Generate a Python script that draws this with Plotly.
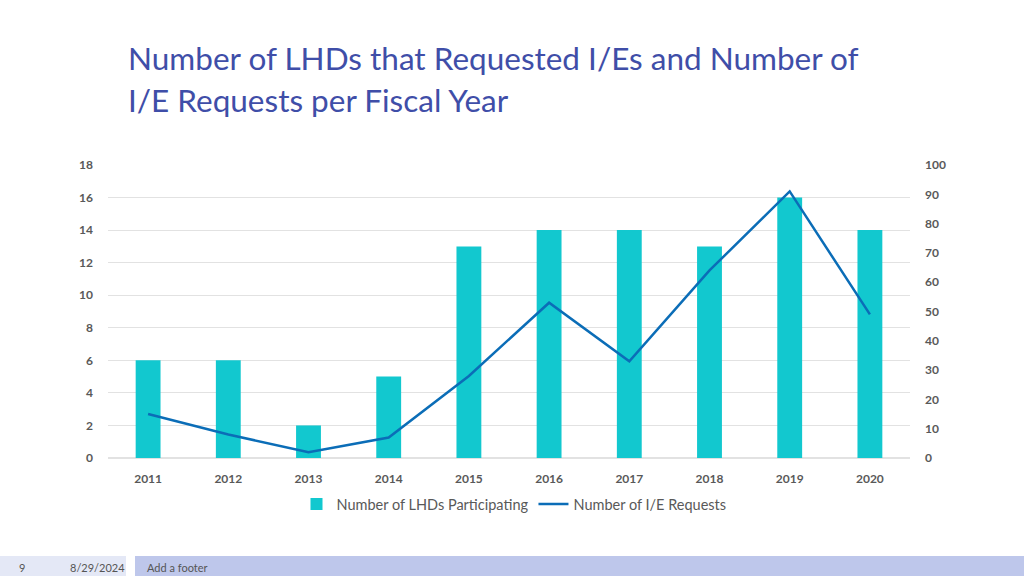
import plotly.graph_objects as go

years = ["2011", "2012", "2013", "2014", "2015", "2016", "2017", "2018", "2019", "2020"]
lhds_participating = [6, 6, 2, 5, 13, 14, 14, 13, 16, 14]
ie_requests = [15, 8, 2, 7, 28, 53, 33, 64, 91, 49]
left_ticks = [0, 2, 4, 6, 8, 10, 12, 14, 16, 18]
right_ticks = [0, 10, 20, 30, 40, 50, 60, 70, 80, 90, 100]

L, R, T, B = 108, 910, 165, 458
W, H = 1024, 576
pw, ph = R - L, B - T

def px(x):
    return (x - L) / pw

def py(y):
    return (B - y) / ph

fig = go.Figure()
fig.add_trace(go.Bar(
    x=years, y=lhds_participating, name="Number of LHDs Participating",
    marker=dict(color="#12C8CF", line=dict(width=0)), width=0.31, yaxis="y",
))
fig.add_trace(go.Scatter(
    x=years, y=ie_requests, name="Number of I/E Requests", mode="lines",
    line=dict(color="#0B6DB7", width=2.5), yaxis="y2",
))

tickfont = dict(family="Lato", size=12, color="#595959", weight="bold")

fig.update_layout(
    width=W, height=H,
    margin=dict(l=L, r=W - R, t=T, b=H - B, pad=0),
    paper_bgcolor="white", plot_bgcolor="white",
    showlegend=True,
    legend=dict(orientation="h", x=px(514), xanchor="center", y=py(504), yanchor="middle",
                font=dict(family="Lato", size=14.5, color="#595959"), itemwidth=30,
                bgcolor="rgba(0,0,0,0)"),
    xaxis=dict(type="category", showgrid=False, showline=False, zeroline=False,
               tickfont=tickfont, ticks="", ticklabelstandoff=12),
    yaxis=dict(range=[0, 18], tickvals=left_ticks, showgrid=True, gridcolor="#E2E2E2",
               gridwidth=1, zeroline=True, zerolinecolor="#E2E2E2", showline=False,
               tickfont=tickfont, ticks="", ticklabelstandoff=14),
    yaxis2=dict(range=[0, 100], tickvals=right_ticks, overlaying="y", side="right",
                showgrid=False, zeroline=False, showline=False,
                tickfont=tickfont, ticks="", ticklabelstandoff=14),
    bargap=0.69,
)

titlefont = dict(family="Lato", size=31.5, color="#3F4EA8")
fig.add_annotation(text="Number of LHDs that Requested I/Es and Number of",
                   xref="paper", yref="paper", x=px(126), y=py(58),
                   showarrow=False, font=titlefont, xanchor="left", yanchor="middle")
fig.add_annotation(text="I/E Requests per Fiscal Year",
                   xref="paper", yref="paper", x=px(126), y=py(100),
                   showarrow=False, font=titlefont, xanchor="left", yanchor="middle")

# footer band
fig.add_shape(type="rect", xref="paper", yref="paper",
              x0=px(0), x1=px(126), y0=py(576), y1=py(556),
              fillcolor="#E4E8F6", line=dict(width=0), layer="below")
fig.add_shape(type="rect", xref="paper", yref="paper",
              x0=px(135), x1=px(1024), y0=py(576), y1=py(556),
              fillcolor="#BEC7EB", line=dict(width=0), layer="below")

footfont = dict(family="Lato", size=11, color="#555555")
fig.add_annotation(text="9", xref="paper", yref="paper", x=px(22), y=py(567),
                   showarrow=False, font=footfont, xanchor="center", yanchor="middle")
fig.add_annotation(text="8/29/2024", xref="paper", yref="paper", x=px(97), y=py(567),
                   showarrow=False, font=footfont, xanchor="center", yanchor="middle")
fig.add_annotation(text="Add a footer", xref="paper", yref="paper", x=px(145), y=py(567),
                   showarrow=False, font=footfont, xanchor="left", yanchor="middle")

fig.write_html("out.html", config={"displayModeBar": False},
               post_script="document.body.style.margin='0';document.body.style.overflow='hidden';")
